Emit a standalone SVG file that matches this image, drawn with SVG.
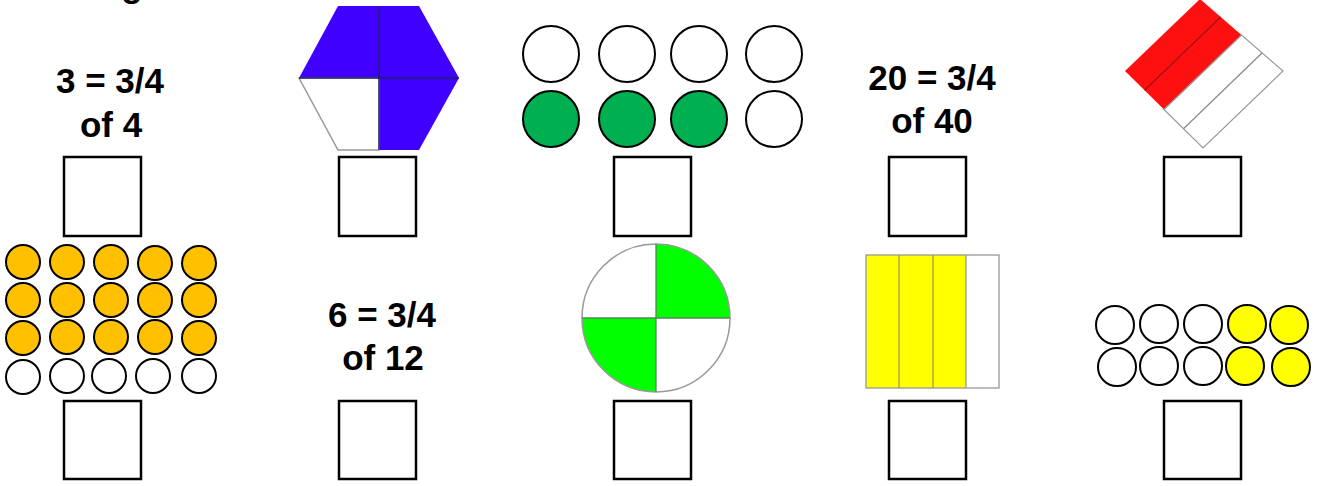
<svg xmlns="http://www.w3.org/2000/svg" width="1323" height="486" viewBox="0 0 1323 486">
<style>
.t{font-family:"Liberation Sans",Arial,sans-serif;font-weight:700;font-size:35px;fill:#000;text-anchor:middle}
.box{fill:#fff;stroke:#000;stroke-width:2.5}
.dot{stroke:#000;stroke-width:2}
.thin{stroke:#999;stroke-width:1.3}
</style>
<rect width="1323" height="486" fill="#fff"/>
<text class="t" x="132" y="-3" font-size="30">g</text>

<g id="answer-boxes">
<rect class="box" x="64" y="157" width="77" height="79"/>
<rect class="box" x="339" y="157" width="77" height="79"/>
<rect class="box" x="614" y="157" width="77" height="79"/>
<rect class="box" x="889" y="157" width="77" height="79"/>
<rect class="box" x="1164" y="157" width="77" height="79"/>
<rect class="box" x="64" y="401" width="77" height="78"/>
<rect class="box" x="339" y="401" width="77" height="78"/>
<rect class="box" x="614" y="401" width="77" height="78"/>
<rect class="box" x="889" y="401" width="77" height="78"/>
<rect class="box" x="1164" y="401" width="77" height="78"/>
</g>

<g id="text-3-of-4">
<text class="t" x="110" y="93">3 = 3/4</text>
<text class="t" x="111" y="137">of 4</text>
</g>

<g id="hexagon">
<polygon points="338,6 379,6 379,78 299,78" fill="#4000FF"/>
<polygon points="379,6 419,6 459,78 379,78" fill="#4000FF"/>
<polygon points="379,78 459,78 419,150 379,150" fill="#4000FF"/>
<polygon points="299,78 379,78 379,150 338,150" fill="#fff" stroke="#999" stroke-width="1.5"/>
<line x1="379" y1="6" x2="379" y2="150" stroke="#202060" stroke-width="1.3"/>
<line x1="299" y1="78" x2="459" y2="78" stroke="#202060" stroke-width="1.3"/>
</g>

<g id="green-counters">
<circle class="dot" cx="551" cy="54" r="28" fill="#fff"/>
<circle class="dot" cx="627" cy="54" r="28" fill="#fff"/>
<circle class="dot" cx="699" cy="54" r="28" fill="#fff"/>
<circle class="dot" cx="774" cy="54" r="28" fill="#fff"/>
<circle class="dot" cx="551" cy="119" r="28" fill="#00B050"/>
<circle class="dot" cx="627" cy="119" r="28" fill="#00B050"/>
<circle class="dot" cx="699" cy="119" r="28" fill="#00B050"/>
<circle class="dot" cx="774" cy="119" r="28" fill="#fff"/>
</g>

<g id="text-20-of-40">
<text class="t" x="932" y="90">20 = 3/4</text>
<text class="t" x="932" y="133">of 40</text>
</g>

<g id="red-diamond">
<polygon points="1125,71 1200,-1 1241.5,35 1164,109.5" fill="#FF1010"/>
<polygon points="1164,109.5 1241.5,35 1283,71 1203,148" fill="#fff" stroke="#999" stroke-width="1.2"/>
<line x1="1144.5" y1="90.25" x2="1220.75" y2="17" stroke="#A01010" stroke-width="1.2"/>
<line x1="1183.5" y1="128.75" x2="1262" y2="53" stroke="#888" stroke-width="1.2"/>
<line x1="1164" y1="109.5" x2="1241.5" y2="35" stroke="#999" stroke-width="1"/>
</g>

<g id="orange-counters">
<g fill="#FFC000">
<circle class="dot" cx="23" cy="262" r="17"/><circle class="dot" cx="67" cy="262" r="17"/><circle class="dot" cx="111" cy="262" r="17"/><circle class="dot" cx="155" cy="263" r="17"/><circle class="dot" cx="199" cy="263" r="17"/>
<circle class="dot" cx="23" cy="300" r="17"/><circle class="dot" cx="67" cy="300" r="17"/><circle class="dot" cx="111" cy="300" r="17"/><circle class="dot" cx="155" cy="300" r="17"/><circle class="dot" cx="199" cy="300" r="17"/>
<circle class="dot" cx="23" cy="338" r="17"/><circle class="dot" cx="67" cy="337" r="17"/><circle class="dot" cx="111" cy="337" r="17"/><circle class="dot" cx="155" cy="337" r="17"/><circle class="dot" cx="199" cy="338" r="17"/>
</g>
<g fill="#fff">
<circle class="dot" cx="23" cy="377" r="17"/><circle class="dot" cx="67" cy="376" r="17"/><circle class="dot" cx="109" cy="376" r="17"/><circle class="dot" cx="153" cy="376" r="17"/><circle class="dot" cx="199" cy="376" r="17"/>
</g>
</g>

<g id="text-6-of-12">
<text class="t" x="382" y="327">6 = 3/4</text>
<text class="t" x="383" y="370">of 12</text>
</g>

<g id="green-circle">
<path d="M656,318 L656,244 A74,74 0 0 1 730,318 Z" fill="#00FF00"/>
<path d="M656,318 L582,318 A74,74 0 0 0 656,392 Z" fill="#00FF00"/>
<circle cx="656" cy="318" r="74" fill="none" stroke="#999" stroke-width="1.5"/>
<line x1="656" y1="244" x2="656" y2="392" stroke="#558855" stroke-width="1.3"/>
<line x1="582" y1="318" x2="730" y2="318" stroke="#558855" stroke-width="1.3"/>
</g>

<g id="yellow-strips">
<rect x="866" y="255" width="100" height="133" fill="#FFFF00"/>
<rect x="866" y="255" width="133" height="133" fill="none" stroke="#999" stroke-width="1.3"/>
<line x1="899" y1="255" x2="899" y2="388" stroke="#A0A040" stroke-width="1.3"/>
<line x1="933" y1="255" x2="933" y2="388" stroke="#A0A040" stroke-width="1.3"/>
<line x1="966" y1="255" x2="966" y2="388" stroke="#999" stroke-width="1.3"/>
</g>

<g id="yellow-counters">
<circle class="dot" cx="1115" cy="325" r="19" fill="#fff"/>
<circle class="dot" cx="1159" cy="324" r="19" fill="#fff"/>
<circle class="dot" cx="1203" cy="324" r="19" fill="#fff"/>
<circle class="dot" cx="1247" cy="324" r="19" fill="#FFFF00"/>
<circle class="dot" cx="1289" cy="325" r="19" fill="#FFFF00"/>
<circle class="dot" cx="1117" cy="367" r="19" fill="#fff"/>
<circle class="dot" cx="1159" cy="366" r="19" fill="#fff"/>
<circle class="dot" cx="1203" cy="366" r="19" fill="#fff"/>
<circle class="dot" cx="1245" cy="366" r="19" fill="#FFFF00"/>
<circle class="dot" cx="1291" cy="367" r="19" fill="#FFFF00"/>
</g>
</svg>
